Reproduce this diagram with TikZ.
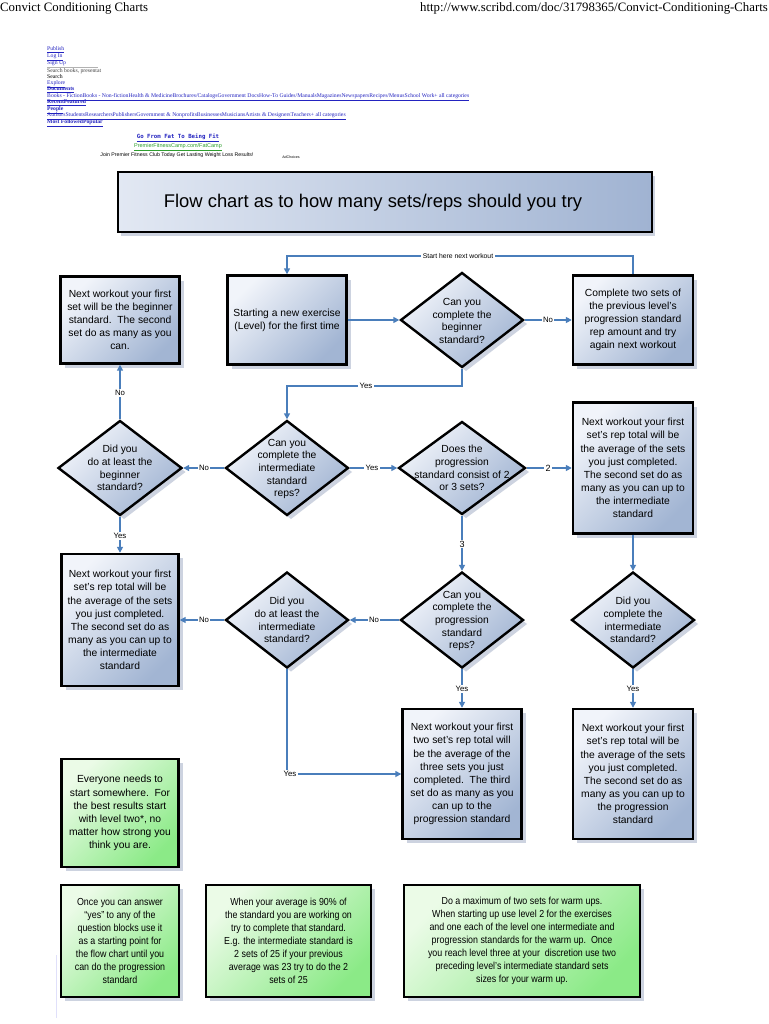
\documentclass[tikz,border=0pt]{standalone}
\usepackage{fontspec}
\setmainfont{Liberation Sans}
\newfontfamily\hdrfont{Liberation Serif}
\newfontfamily\narrowfont[FakeStretch=0.87]{Liberation Sans}
\newfontfamily\adfont{DejaVu Sans Mono}
\usetikzlibrary{shapes.geometric,arrows.meta,shadows}
\definecolor{boxlight}{HTML}{F1F4FA}
\definecolor{boxdark}{HTML}{A2B5D3}
\definecolor{ttllight}{HTML}{E2E8F3}
\definecolor{ttldark}{HTML}{A0B3D2}
\definecolor{grnlight}{HTML}{EBFBE7}
\definecolor{grndark}{HTML}{8BEA87}
\definecolor{shadowc}{HTML}{CDD3E0}
\definecolor{conncol}{HTML}{4A7EBB}
\definecolor{linkblue}{HTML}{2323C0}
\definecolor{adgreen}{HTML}{2E9E2E}
\tikzset{
  base/.style={draw=black, line width=2.4pt, inner sep=0pt, align=center,
    drop shadow={shadow xshift=4pt, shadow yshift=-4pt, fill=shadowc, opacity=1}},
  bluebox/.style={base, rectangle, top color=boxlight, bottom color=boxdark, shading angle=45,
    font=\fontsize{10.3}{13.1}\selectfont},
  greenbox/.style={base, rectangle, top color=grnlight, bottom color=grndark, shading angle=45,
    font=\fontsize{10.3}{13.1}\selectfont},
  gnarrow/.style={base, rectangle, top color=grnlight, bottom color=grndark, shading angle=45,
    font=\narrowfont\fontsize{10.2}{12.9}\selectfont},
  dia/.style={base, diamond, top color=boxlight, bottom color=boxdark, shading angle=45,
    minimum width=123pt, minimum height=95pt},
  dtext/.style={align=center, inner sep=0pt, font=\fontsize{10.3}{12.7}\selectfont},
  conn/.style={draw=conncol, line width=1.5pt, -{Triangle[length=6pt,width=6pt]}},
  lbl/.style={fill=white, inner sep=1.2pt, font=\fontsize{7.8}{8}\selectfont},
  lnk/.style={anchor=west, inner sep=0pt, text=linkblue, font=\hdrfont\fontsize{5.7}{6}\selectfont},
}
\begin{document}
\begin{tikzpicture}[x=1pt,y=-1pt]
\useasboundingbox (0,0) rectangle (768,1024);
\fill[white] (0,0) rectangle (768,1024);

% header
\node[anchor=west, inner sep=0pt, font=\hdrfont\fontsize{12.8}{13}\selectfont] (hdrl) at (0,8.5) {Convict Conditioning Charts};
\node[anchor=east, inner sep=0pt, font=\hdrfont\fontsize{12.8}{13}\selectfont] (hdrr) at (768,8.5) {http://www.scribd.com/doc/31798365/Convict-Conditioning-Charts};

% web links
\node[lnk] (l1) at (47,50) {\underline{Publish}};
\node[lnk] (l2) at (47,57) {\underline{Log In}};
\node[lnk] (l3) at (47,64) {\underline{Sign Up}};
\draw[black!30, line width=0.4pt] (47,67) -- (98,67);
\node[lnk, text=black!75] (l4) at (47,71.5) {Search books, presentat};
\node[lnk, text=black] (l5) at (47,77) {Search};
\node[lnk] (l6) at (47,84) {\underline{Explore}};
\node[lnk, font=\hdrfont\bfseries\fontsize{5.7}{6}\selectfont] (l7) at (47,90) {\underline{Documents}};
\node[lnk] (l8) at (47,97) {\underline{Books - FictionBooks - Non-fictionHealth \& MedicineBrochures/CatalogsGovernment DocsHow-To Guides/ManualsMagazinesNewspapersRecipes/MenusSchool Work+ all categories}};
\node[lnk, font=\hdrfont\bfseries\fontsize{5.7}{6}\selectfont] (l9) at (47,103) {\underline{RecentFeatured}};
\node[lnk, font=\hdrfont\bfseries\fontsize{5.7}{6}\selectfont] (l10) at (47,110) {\underline{People}};
\node[lnk] (l11) at (47,116) {\underline{AuthorsStudentsResearchersPublishersGovernment \& NonprofitsBusinessesMusiciansArtists \& DesignersTeachers+ all categories}};
\node[lnk, font=\hdrfont\bfseries\fontsize{5.7}{6}\selectfont] (l12) at (47,123) {\underline{Most FollowedPopular}};

% ad
\node[inner sep=0pt, text=linkblue, font=\adfont\bfseries\fontsize{5.7}{6}\selectfont] (ad1) at (178,138) {\underline{Go From Fat To Being Fit}};
\node[inner sep=0pt, text=adgreen, font=\fontsize{5.5}{6}\selectfont] (ad2) at (178,147.5) {\underline{PremierFitnessCamp.com/FatCamp}};
\node[inner sep=0pt, font=\fontsize{5.2}{6}\selectfont] (ad3) at (177,155.5) {Join Premier Fitness Club Today Get Lasting Weight Loss Results!};
\node[inner sep=0pt, font=\fontsize{3.6}{4}\selectfont] (ad4) at (291,157) {AdChoices};

% title
\node[draw=black, line width=2.4pt, left color=ttllight, right color=ttldark,
      minimum width=534pt, minimum height=60pt, inner sep=0pt,
      drop shadow={shadow xshift=3pt, shadow yshift=-4pt, fill=shadowc, opacity=1}] (title) at (385,202) {};
\node[inner sep=0pt, font=\fontsize{18.4}{20}\selectfont] (titlet) at (373,203) {Flow chart as to how many sets/reps should you try};

% row 1
\node[bluebox, minimum width=119pt, minimum height=87pt] (bbeg) at (120,320)
  {Next workout your first\\set will be the beginner\\standard.\ \ The second\\set do as many as you\\can.};
\node[bluebox, minimum width=119pt, minimum height=89pt] (bstart) at (287,320)
  {Starting a new exercise\\(Level) for the first time};
\node[dia] (d1) at (462,320) {};
\node[dtext] (d1t) at (462,321) {Can you\\complete the\\beginner\\standard?};
\node[bluebox, minimum width=120pt, minimum height=89pt] (bprev) at (633,320)
  {Complete two sets of\\the previous level’s\\progression standard\\rep amount and try\\again next workout};

% row 2
\node[dia, minimum width=124pt] (dbeg) at (120,468) {};
\node[dtext] (dbegt) at (120,468) {Did you\\do at least the\\beginner\\standard?};
\node[dia] (dint) at (287,468) {};
\node[dtext] (dintt) at (287,469) {Can you\\complete the\\intermediate\\standard\\reps?};
\node[dia, minimum width=127pt, minimum height=93pt] (dsets) at (462,468) {};
\node[dtext] (dsetst) at (462,468) {Does the\\progression\\standard consist of 2\\or 3 sets?};
\node[bluebox, minimum width=120pt, minimum height=131pt] (bint2) at (633,468)
  {Next workout your first\\set’s rep total will be\\the average of the sets\\you just completed.\\The second set do as\\many as you can up to\\the intermediate\\standard};

% row 3
\node[bluebox, minimum width=117pt, minimum height=132pt] (bintL) at (120,620)
  {Next workout your first\\set’s rep total will be\\the average of the sets\\you just completed.\\The second set do as\\many as you can up to\\the intermediate\\standard};
\node[dia, minimum height=96pt] (dintL) at (287,620) {};
\node[dtext] (dintLt) at (287,620) {Did you\\do at least the\\intermediate\\standard?};
\node[dia, minimum height=96pt] (dprog) at (462,620) {};
\node[dtext] (dprogt) at (462,621) {Can you\\complete the\\progression\\standard\\reps?};
\node[dia, minimum height=96pt] (dint2) at (633,620) {};
\node[dtext] (dint2t) at (633,620) {Did you\\complete the\\intermediate\\standard?};

% row 4
\node[bluebox, minimum width=119pt, minimum height=130pt] (bthree) at (462,774)
  {Next workout your first\\two set’s rep total will\\be the average of the\\three sets you just\\completed.\ \ The third\\set do as many as you\\can up to the\\progression standard};
\node[bluebox, minimum width=120pt, minimum height=130pt] (bprog2) at (633,774)
  {Next workout your first\\set’s rep total will be\\the average of the sets\\you just completed.\\The second set do as\\many as you can up to\\the progression\\standard};
\node[greenbox, minimum width=117pt, minimum height=108pt] (gev) at (120,813)
  {Everyone needs to\\start somewhere.\ \ For\\the best results start\\with level two*, no\\matter how strong you\\think you are.};

% bottom notes
\node[gnarrow, minimum width=118pt, minimum height=112pt] (g1) at (120,941)
  {Once you can answer\\“yes” to any of the\\question blocks use it\\as a starting point for\\the flow chart until you\\can do the progression\\standard};
\node[gnarrow, minimum width=165pt, minimum height=112pt] (g2) at (288.5,941)
  {When your average is 90\% of\\the standard you are working on\\try to complete that standard.\\E.g. the intermediate standard is\\2 sets of 25 if your previous\\average was 23 try to do the 2\\sets of 25};
\node[gnarrow, minimum width=236pt, minimum height=112pt] (g3) at (522,941)
  {Do a maximum of two sets for warm ups.\\When starting up use level 2 for the exercises\\and one each of the level one intermediate and\\progression standards for the warm up.\ \ Once\\you reach level three at your\ \ discretion use two\\preceding level’s intermediate standard sets\\sizes for your warm up.};
\draw[black!15!blue!12, line width=1pt] (56,955) -- (56,1018);

% connectors
\coordinate (ytop) at (0,256);
\coordinate (yyes) at (0,386);
\draw[conn] (bprev.north) |- (bstart.north |- ytop) -- (bstart.north);
\draw[conn] (bstart.east) -- (d1.west);
\draw[conn] (d1.east) -- (bprev.west);
\draw[conn] (d1.south) -- (d1.south |- yyes) -| (dint.north);
\draw[conn] (dbeg.north) -- (bbeg.south);
\draw[conn] (dint.west) -- (dbeg.east);
\draw[conn] (dint.east) -- (dsets.west);
\draw[conn] (dsets.east) -- (bint2.west);
\draw[conn] (dbeg.south) -- (bintL.north);
\draw[conn] (dsets.south) -- (dprog.north);
\draw[conn] (bint2.south) -- (dint2.north);
\draw[conn] (dprog.west) -- (dintL.east);
\draw[conn] (dintL.west) -- (bintL.east);
\draw[conn] (dintL.south) |- (bthree.west);
\draw[conn] (dprog.south) -- (bthree.north);
\draw[conn] (dint2.south) -- (bprog2.north);

% connector labels
\node[lbl, font=\fontsize{6.8}{7}\selectfont, inner sep=1.5pt] (lstart) at (458,256) {Start here next workout};
\node[lbl] (lno1) at (548,320) {No};
\node[lbl] (lyes1) at (366,386) {Yes};
\node[lbl] (lno2) at (120,393) {No};
\node[lbl] (lno3) at (204,468) {No};
\node[lbl] (lyes2) at (372,468) {Yes};
\node[lbl, font=\fontsize{9}{10}\selectfont] (l2s) at (548,468) {2};
\node[lbl] (lyes3) at (120,536) {Yes};
\node[lbl, font=\fontsize{9}{10}\selectfont] (l3s) at (462,544) {3};
\node[lbl] (lno4) at (374,620) {No};
\node[lbl] (lno5) at (204,620) {No};
\node[lbl] (lyes4) at (290,774) {Yes};
\node[lbl] (lyes5) at (462,689) {Yes};
\node[lbl] (lyes6) at (633,689) {Yes};
\end{tikzpicture}
\end{document}
